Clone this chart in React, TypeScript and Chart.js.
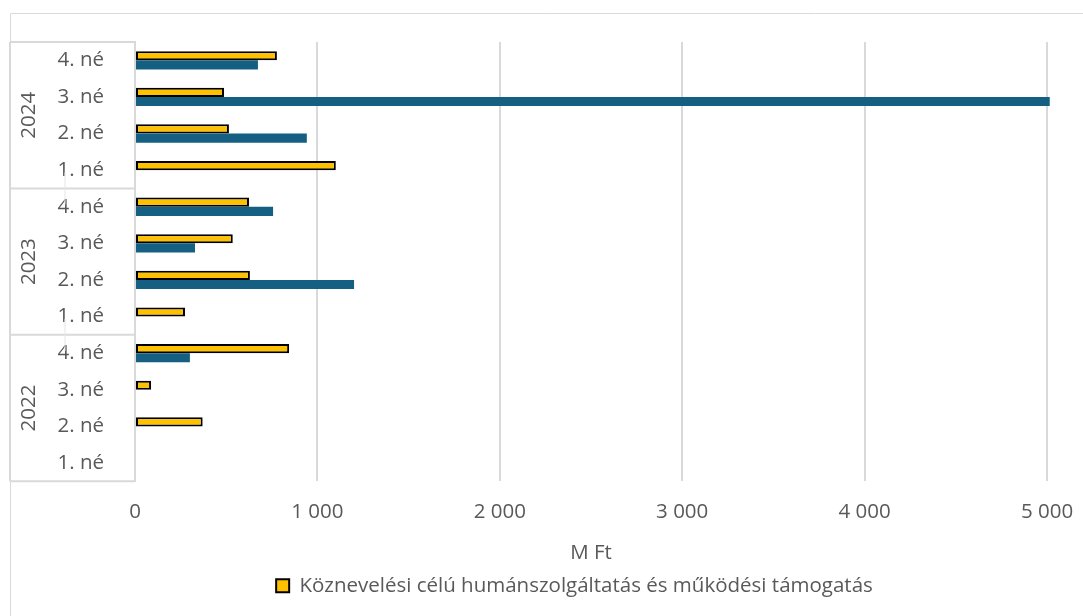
import React, { useEffect, useRef } from 'react';
import { Chart, registerables } from 'chart.js';

Chart.register(...registerables);

const categories = ['4. né', '3. né', '2. né', '1. né', '4. né', '3. né', '2. né', '1. né', '4. né', '3. né', '2. né', '1. né'];
const years = ['2024', '2023', '2022'];
const yearGroupSizes = [4, 4, 4];
const yellowName = 'Köznevelési célú humánszolgáltatás és működési támogatás';
const yellowValues = [778, 488, 515, 1101, 625, 536, 630, 274, 845, 88, 371, null];
const blueName = 'Egyéb';
const blueValues = [674, 5015, 942, null, 757, 329, 1201, null, 301, null, null, null];
const xMin = 0;
const xMax = 5000;
const xStep = 1000;
const axisTitle = 'M Ft';

const FONT = '"Open Sans", sans-serif';
const FS = 20.5;
const TEXT = '#595959';
const GRID = '#d9d9d9';
const LEGEND_SHIFT = 51;

const fmt = (v: number) => {
  const s = String(Math.round(v));
  return s.replace(/\B(?=(\d{3})+(?!\d))/g, ' ');
};

const framePlugin = {
  id: 'frame',
  afterLayout(chart: any) {
    const lg = chart.legend;
    if (lg) {
      lg.left += LEGEND_SHIFT;
      lg.right += LEGEND_SHIFT;
    }
  },
  beforeDraw(chart: any) {
    const { ctx, width, height } = chart;
    ctx.save();
    ctx.strokeStyle = GRID;
    ctx.lineWidth = 1;
    ctx.beginPath();
    ctx.moveTo(10.5, height + 5);
    ctx.lineTo(10.5, 13.5);
    ctx.lineTo(width + 5, 13.5);
    ctx.stroke();
    ctx.restore();
  },
};

const tablePlugin = {
  id: 'catTable',
  afterDraw(chart: any) {
    const { ctx, chartArea } = chart;
    const y = chart.scales.y;
    const left = 10;
    const right = chartArea.left;
    const step = y.getPixelForValue(1) - y.getPixelForValue(0);
    const bounds: number[] = [y.getPixelForValue(0) - step / 2];
    let idx = 0;
    yearGroupSizes.forEach((s) => {
      idx += s;
      bounds.push(y.getPixelForValue(idx - 1) + step / 2);
    });
    ctx.save();
    ctx.strokeStyle = GRID;
    ctx.lineWidth = 2;
    bounds.forEach((b) => {
      ctx.beginPath();
      ctx.moveTo(left, b);
      ctx.lineTo(right, b);
      ctx.stroke();
    });
    ctx.beginPath();
    ctx.moveTo(left, bounds[0]);
    ctx.lineTo(left, bounds[bounds.length - 1]);
    ctx.stroke();
    ctx.lineWidth = 1;
    ctx.strokeStyle = '#e6e6e6';
    for (let i = 1; i < bounds.length - 1; i++) {
      ctx.beginPath();
      ctx.moveTo(65, bounds[i] - 16);
      ctx.lineTo(65, bounds[i] + 16);
      ctx.stroke();
    }
    ctx.fillStyle = TEXT;
    ctx.font = FS + 'px ' + FONT;
    ctx.textAlign = 'center';
    ctx.textBaseline = 'middle';
    years.forEach((yr, i) => {
      const c = (bounds[i] + bounds[i + 1]) / 2;
      ctx.save();
      ctx.translate(29, c);
      ctx.rotate(-Math.PI / 2);
      ctx.fillText(yr, 0, 0);
      ctx.restore();
    });
    ctx.restore();
  },
};

export default function App() {
  const ref = useRef<HTMLCanvasElement | null>(null);
  useEffect(() => {
    if (!ref.current) return;
    const chart = new Chart(ref.current, {
      type: 'bar',
      data: {
        labels: categories,
        datasets: [
          {
            label: yellowName,
            data: yellowValues,
            backgroundColor: '#FFC000',
            borderColor: '#000000',
            borderWidth: 2,
            borderSkipped: false,
            categoryPercentage: 0.5,
            barPercentage: 1,
          },
          {
            label: blueName,
            data: blueValues,
            backgroundColor: '#156082',
            borderWidth: 0,
            categoryPercentage: 0.5,
            barPercentage: 1,
            clip: false,
          },
        ],
      },
      options: {
        indexAxis: 'y',
        animation: false,
        responsive: false,
        layout: { padding: { left: 0, top: 42, right: 36, bottom: 10 } },
        plugins: {
          legend: {
            position: 'bottom',
            labels: {
              filter: (item: any) => item.datasetIndex === 0,
              boxWidth: 13,
              boxHeight: 13,
              color: TEXT,
              font: { family: FONT, size: FS },
              padding: 10,
            },
          },
          tooltip: { enabled: false },
        },
        scales: {
          x: {
            min: xMin,
            max: xMax,
            afterFit: (s: any) => {
              s.paddingRight = 0;
              s.paddingLeft = 0;
            },
            ticks: {
              stepSize: xStep,
              callback: (v: any) => fmt(Number(v)),
              color: TEXT,
              font: { family: FONT, size: FS },
              padding: 19,
            },
            grid: { color: GRID, lineWidth: 2, drawTicks: false },
            border: { display: false },
            title: {
              display: true,
              text: axisTitle,
              color: TEXT,
              font: { family: FONT, size: FS },
              padding: { top: -3, bottom: 0 },
            },
          },
          y: {
            afterFit: (s: any) => {
              s.width = 135;
            },
            ticks: { color: TEXT, font: { family: FONT, size: FS }, padding: 23 },
            grid: { display: false },
            border: { display: true, color: GRID, width: 2 },
          },
        },
      } as any,
      plugins: [framePlugin, tablePlugin],
    });
    return () => chart.destroy();
  }, []);
  return (
    <div style={{ position: 'fixed', left: 0, top: 0, width: 1083, height: 616, background: '#fff' }}>
      <canvas ref={ref} width={1083} height={616} />
    </div>
  );
}
